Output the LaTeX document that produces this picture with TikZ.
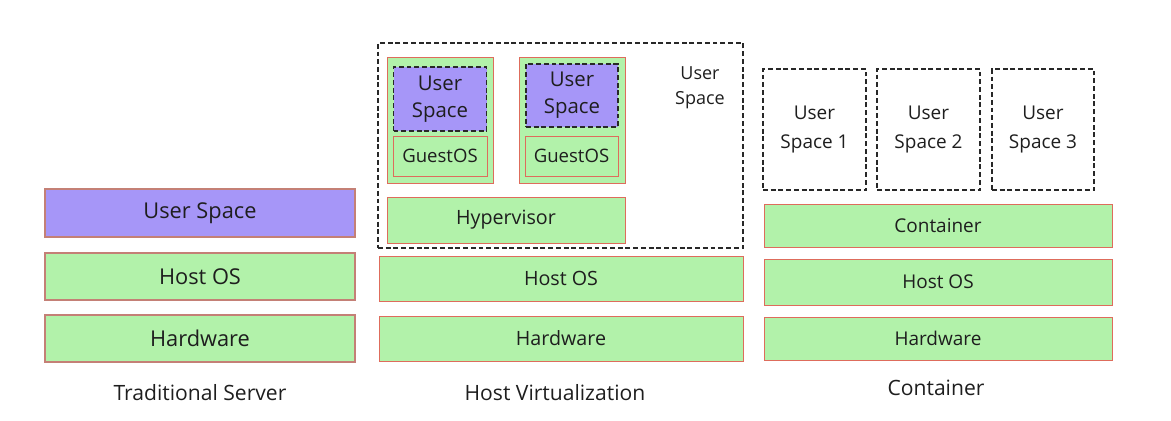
\documentclass[tikz,border=0pt]{standalone}
\usepackage{fontspec}
\setmainfont{Open Sans}
\usetikzlibrary{positioning}

\definecolor{layergreen}{RGB}{178,242,170}
\definecolor{userpurple}{RGB}{166,150,248}
\definecolor{rosyline}{RGB}{196,128,118}
\definecolor{redline}{RGB}{222,108,92}
\definecolor{inktext}{RGB}{30,30,30}
\definecolor{dashink}{RGB}{40,40,40}

\def\px{0.025cm}

\begin{document}
\begin{tikzpicture}
      [x=0.025cm,y=-0.025cm,every node/.style={inner sep=0pt,text=inktext,align=center}]

      \tikzstyle{oldlayer} = [draw=rosyline, line width=1.3pt, fill=layergreen, font=\fontsize{15.5}{18}\selectfont]
      \tikzstyle{oldspace} = [oldlayer, fill=userpurple]
      \tikzstyle{layer} = [draw=redline, line width=0.7pt, fill=layergreen, font=\fontsize{14}{16}\selectfont]
      \tikzstyle{ctrlayer} = [layer, font=\fontsize{13.5}{16}\selectfont]
      \tikzstyle{guest} = [layer, font=\fontsize{13.2}{15}\selectfont]
      \tikzstyle{dashbox} = [draw=dashink, line width=1.1pt, dash pattern=on 3.5pt off 2pt]
      \tikzstyle{vmspace} = [dashbox, fill=userpurple, font=\fontsize{14.5}{19}\selectfont]
      \tikzstyle{userbox} = [dashbox, font=\fontsize{13.5}{20}\selectfont]
      \tikzstyle{caption} = [font=\fontsize{15}{17}\selectfont]

      \useasboundingbox (0,0) rectangle (1171,421);

      % traditional server
      \node[oldspace, minimum width=310*\px, minimum height=48*\px] (oldus) at (200,213) {User Space};
      \node[oldlayer, minimum width=310*\px, minimum height=47*\px] (oldos) at (200,276.5) {Host OS};
      \node[oldlayer, minimum width=310*\px, minimum height=47*\px] (oldhw) at (200,338.5) {Hardware};
      \node[caption] (oldcap) at (200,393) {Traditional Server};

      % host virtualization
      \node[dashbox, minimum width=365*\px, minimum height=205*\px] (vmarea) at (560.5,145.5) {};
      \node[layer, minimum width=106*\px, minimum height=126*\px] (vm1) at (440,120) {};
      \node[vmspace, minimum width=93*\px, minimum height=64*\px] (vm1us) at (440,99) {User\\Space};
      \node[guest, minimum width=94*\px, minimum height=40*\px] (vm1os) at (440,156) {GuestOS};
      \node[layer, minimum width=106*\px, minimum height=126*\px] (vm2) at (572,120) {};
      \node[vmspace, minimum width=92*\px, minimum height=63*\px] (vm2us) at (572,95.5) {User\\Space};
      \node[guest, minimum width=93*\px, minimum height=40*\px] (vm2os) at (571.5,156) {GuestOS};
      \node[font=\fontsize{12.8}{17.8}\selectfont] (hostus) at (700,88) {User\\Space};
      \node[layer, minimum width=238*\px, minimum height=46*\px] (hyper) at (506,220) {Hypervisor};
      \node[layer, minimum width=364*\px, minimum height=45*\px] (vmos) at (561,278.5) {Host OS};
      \node[layer, minimum width=364*\px, minimum height=45*\px] (vmhw) at (561,338.5) {Hardware};
      \node[caption] (vmcap) at (555,393) {Host Virtualization};

      % container
      \node[userbox, minimum width=103*\px, minimum height=121*\px] (us1) at (814.5,129.5) {User\\Space 1};
      \node[userbox, minimum width=103*\px, minimum height=121*\px] (us2) at (928.5,129.5) {User\\Space 2};
      \node[userbox, minimum width=102*\px, minimum height=121*\px] (us3) at (1043,129.5) {User\\Space 3};
      \node[ctrlayer, minimum width=348*\px, minimum height=43*\px] (ctr) at (938,225.5) {Container};
      \node[ctrlayer, minimum width=348*\px, minimum height=46*\px] (ctros) at (938,282) {Host OS};
      \node[ctrlayer, minimum width=348*\px, minimum height=43*\px] (ctrhw) at (938,338.5) {Hardware};
      \node[caption] (ctrcap) at (936,388) {Container};
\end{tikzpicture}
\end{document}
